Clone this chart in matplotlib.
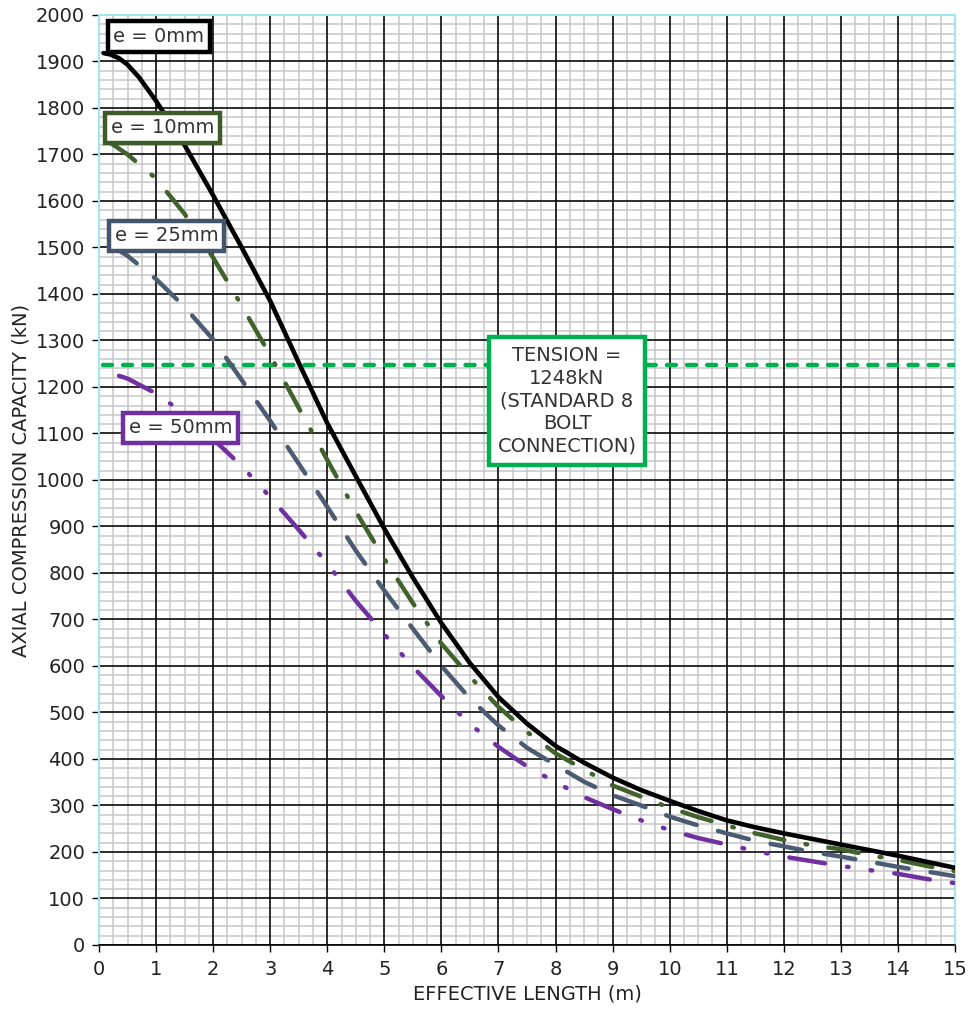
import numpy as np
import matplotlib
matplotlib.use('Agg')
import matplotlib.pyplot as plt

plt.rcParams['font.family'] = 'DejaVu Sans'
plt.rcParams['lines.scale_dashes'] = False

# effective length (m) vs axial compression capacity (kN)
len_e0 = [0.08, 0.2, 0.35, 0.5, 0.7, 1, 1.5, 2, 2.5, 3, 3.5, 4, 4.5, 5, 5.5, 6, 6.5, 7, 7.5,
          8, 8.5, 9, 9.5, 10, 10.5, 11, 11.5, 12, 12.5, 13, 13.5, 14, 14.5, 15]
cap_e0 = [1918, 1915, 1907, 1893, 1866, 1815, 1720, 1612, 1500, 1385, 1252, 1122, 1008, 895,
          790, 692, 606, 533, 476, 428, 392, 360, 333, 310, 288, 268, 253, 240, 228, 216,
          204, 192, 179, 166]

len_e10 = [0.2, 0.5, 1, 1.5, 2, 2.5, 3, 3.5, 4, 4.5, 5, 5.5, 6, 6.5, 7, 7.5, 8, 8.5, 9,
           9.5, 10, 10.5, 11, 11.5, 12, 12.5, 13, 13.5, 14, 14.5, 15]
cap_e10 = [1725, 1700, 1648, 1572, 1478, 1375, 1268, 1155, 1043, 932, 830, 735, 648, 577,
           512, 458, 412, 377, 343, 319, 295, 275, 257, 240, 226, 214, 206, 193, 183, 170, 159]

len_e25 = [0.2, 0.5, 1, 1.5, 2, 2.5, 3, 3.5, 4, 4.5, 5, 5.5, 6, 6.5, 7, 7.5, 8, 8.5, 9,
           9.5, 10, 10.5, 11, 11.5, 12, 12.5, 13, 13.5, 14, 14.5, 15]
cap_e25 = [1505, 1482, 1432, 1372, 1302, 1215, 1127, 1035, 942, 848, 762, 680, 600, 530,
           472, 424, 387, 351, 322, 300, 276, 257, 240, 224, 212, 200, 190, 179, 168, 158, 148]

len_e50 = [0.35, 0.5, 1, 1.5, 2, 2.5, 3, 3.5, 4, 4.5, 5, 5.5, 6, 6.5, 7, 7.5, 8, 8.5, 9,
           9.5, 10, 10.5, 11, 11.5, 12, 12.5, 13, 13.5, 14, 14.5, 15]
cap_e50 = [1224, 1218, 1186, 1142, 1088, 1030, 963, 893, 820, 740, 668, 598, 535, 475,
           426, 384, 350, 318, 292, 268, 247, 230, 216, 202, 190, 180, 170, 161, 153, 142, 133]

tension_len = [0.07, 15]
tension_cap = [1248, 1248]

fig = plt.figure(figsize=(9.68, 10.11), dpi=100)
ax = fig.add_axes([0.1023, 0.0653, 0.8843, 0.9199])

# grid: light minor lines under black major lines
ax.vlines(np.arange(0, 15.01, 0.25), 0, 2000, color='#c6c6c6', lw=1.1, zorder=0.3)
ax.hlines(np.arange(0, 2001, 20), 0, 15, color='#c6c6c6', lw=1.1, zorder=0.3)
ax.vlines(np.arange(0, 16, 1), 0, 2000, color='black', lw=1.1, zorder=0.5)
ax.hlines(np.arange(0, 2001, 100), 0, 15, color='black', lw=1.1, zorder=0.5)

ax.plot(tension_len, tension_cap, color='#00b050', lw=3.2, linestyle=(0, (6.5, 8)),
        dash_capstyle='round', zorder=3)
ax.plot(len_e50, cap_e50, color='#7030a0', lw=3.2,
        linestyle=(0, (26, 16, 1.2, 16, 1.2, 16)), dash_capstyle='round', zorder=4)
ax.plot(len_e25, cap_e25, color='#4a5b72', lw=3.2, linestyle=(0, (23, 16)),
        dash_capstyle='round', zorder=4)
ax.plot(len_e10, cap_e10, color='#41622a', lw=3.2, linestyle=(0, (22, 15.5, 1.2, 15.5)),
        dash_capstyle='round', zorder=4)
ax.plot(len_e0, cap_e0, color='black', lw=3.3, solid_capstyle='round',
        solid_joinstyle='round', zorder=5)

ax.set_xlim(0, 15)
ax.set_ylim(0, 2000)
ax.set_xticks(np.arange(0, 16, 1))
ax.set_yticks(np.arange(0, 2001, 100))
ax.tick_params(which='major', direction='out', length=5, width=1, color='black',
               labelsize=14, labelcolor='#222222')
ax.tick_params(axis='x', pad=6)
ax.tick_params(axis='y', pad=5)

for side in ['left', 'top', 'right']:
    ax.spines[side].set_color('#9fe8ef')
    ax.spines[side].set_linewidth(1.5)
ax.spines['bottom'].set_color('black')
ax.spines['bottom'].set_linewidth(1.2)

ax.set_xlabel('EFFECTIVE LENGTH (m)', fontsize=14, color='#222222', labelpad=4)
ax.set_ylabel('AXIAL COMPRESSION CAPACITY (kN)', fontsize=14, color='#222222', labelpad=4)

def callout(x, y, txt, col, pad=0.3, **kw):
    ax.text(x, y, txt, fontsize=14, color='#333333', ha='center', va='center', zorder=10,
            bbox=dict(boxstyle='square,pad=%s' % pad, fc='white', ec=col, lw=3.2), **kw)

callout(1.05, 1953, 'e = 0mm', 'black')
callout(1.12, 1757, 'e = 10mm', '#3d5a28')
callout(1.18, 1525, 'e = 25mm', '#44546a')
callout(1.43, 1112, 'e = 50mm', '#7030a0')
callout(8.2, 1170, 'TENSION =\n1248kN\n(STANDARD 8\nBOLT\nCONNECTION)', '#00b050',
        pad=0.45, linespacing=1.25)

fig.savefig('out.png', dpi=100)
